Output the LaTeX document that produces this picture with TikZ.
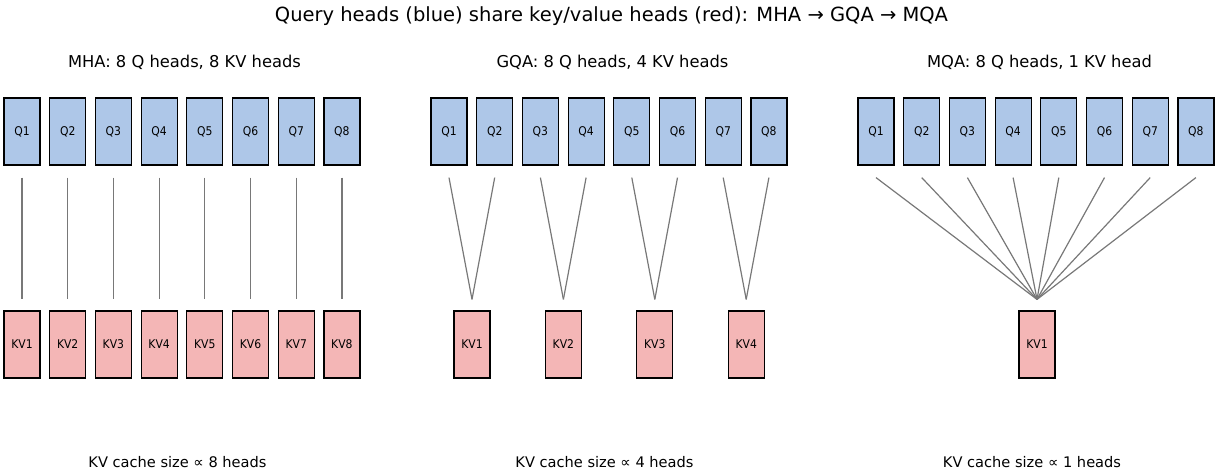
\documentclass[tikz,border=0pt]{standalone}
\usepackage{fontspec}
\setmainfont{DejaVu Sans}
\newfontfamily\boxfont{DejaVu Sans Condensed}
\definecolor{qblue}{RGB}{174,199,232}
\definecolor{kvred}{RGB}{244,182,182}
\definecolor{linkgray}{RGB}{120,120,120}
\tikzset{
  qbox/.style={draw=black, line width=1.2pt, fill=qblue, minimum width=36pt, minimum height=67pt, inner sep=0pt, font=\boxfont\fontsize{12}{14}\selectfont},
  kvbox/.style={draw=black, line width=1.2pt, fill=kvred, minimum width=36pt, minimum height=67pt, inner sep=0pt, font=\boxfont\fontsize{12}{14}\selectfont},
  link/.style={draw=linkgray, line width=1.2pt},
  titletext/.style={font=\fontsize{19.5}{22}\selectfont, inner sep=0pt},
  subtext/.style={font=\fontsize{16.3}{19}\selectfont, inner sep=0pt},
  bottext/.style={font=\fontsize{14.6}{17}\selectfont, inner sep=0pt}
}
\begin{document}
\begin{tikzpicture}[x=1pt,y=-1pt]
\useasboundingbox (0,0) rectangle (1215,471);
\node[titletext] (title) at (611.5,16) {Query heads (blue) share key/value heads (red): MHA → GQA → MQA};
\node[subtext] (mhat) at (184.5,62) {MHA: 8 Q heads, 8 KV heads};
\node[subtext] (gqat) at (612.5,62) {GQA: 8 Q heads, 4 KV heads};
\node[subtext] (mqat) at (1039.5,62) {MQA: 8 Q heads, 1 KV head};
\node[bottext] (mhab) at (177.5,462) {KV cache size ∝ 8 heads};
\node[bottext] (gqab) at (604.5,462) {KV cache size ∝ 4 heads};
\node[bottext] (mqab) at (1032,462) {KV cache size ∝ 1 heads};
% MHA
\foreach \i in {1,...,8} {
  \pgfmathsetmacro{\cx}{22+(\i-1)*45.7}
  \node[qbox] (mq\i) at (\cx,131.5) {Q\i};
  \node[kvbox] (mkv\i) at (\cx,344.5) {KV\i};
  \draw[link] ([yshift=-12pt]mq\i.south) -- ([yshift=11pt]mkv\i.north);
}
% GQA
\foreach \i in {1,...,8} {
  \pgfmathsetmacro{\cx}{449+(\i-1)*45.7}
  \node[qbox] (gq\i) at (\cx,131.5) {Q\i};
}
\foreach \j in {1,...,4} {
  \pgfmathsetmacro{\cx}{472+(\j-1)*91.4}
  \node[kvbox] (gkv\j) at (\cx,344.5) {KV\j};
}
\foreach \i/\j in {1/1,2/1,3/2,4/2,5/3,6/3,7/4,8/4} {
  \draw[link] ([yshift=-12pt]gq\i.south) -- ([yshift=11pt]gkv\j.north);
}
% MQA
\node[kvbox] (qkv1) at (1037,344.5) {KV1};
\foreach \i in {1,...,8} {
  \pgfmathsetmacro{\cx}{876+(\i-1)*45.7}
  \node[qbox] (qq\i) at (\cx,131.5) {Q\i};
  \draw[link] ([yshift=-12pt]qq\i.south) -- ([yshift=11pt]qkv1.north);
}
\end{tikzpicture}
\end{document}
